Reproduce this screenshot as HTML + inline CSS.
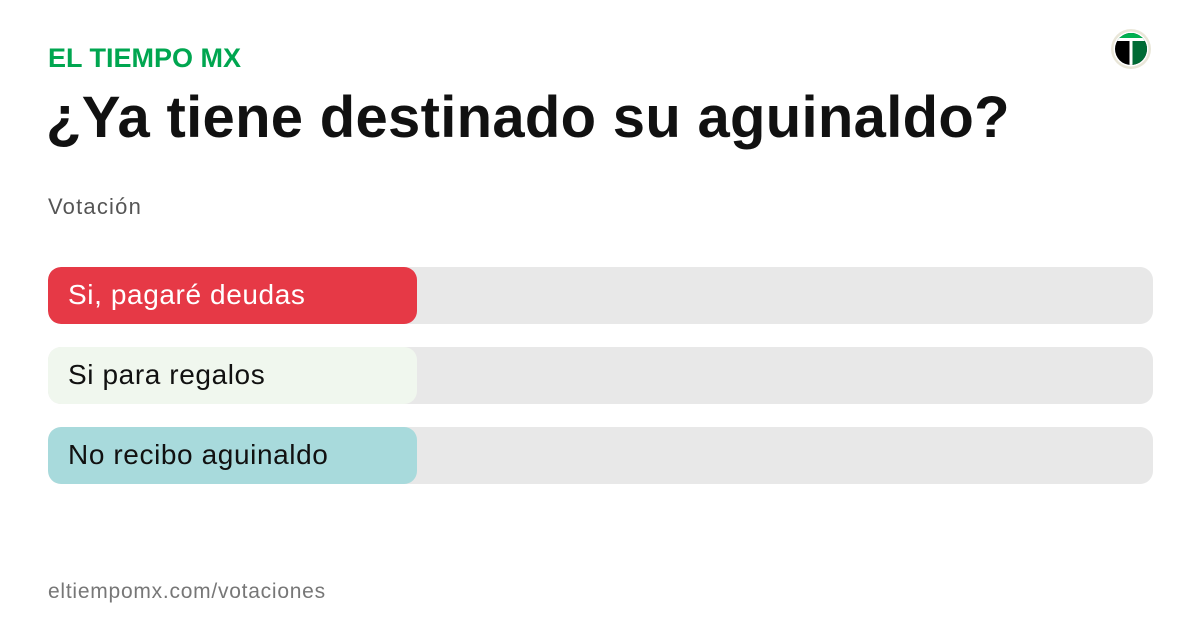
<!DOCTYPE html>
<html><head><meta charset="utf-8"><style>
body{margin:0;width:1200px;height:630px;background:#fff;font-family:"Liberation Sans",sans-serif;position:relative;overflow:hidden}
.a{position:absolute;white-space:nowrap}
.bar{position:absolute;left:48px;width:1105px;height:57px;border-radius:13px;background:#e8e8e8;overflow:hidden}
.fill{position:absolute;left:0;top:0;height:57px;width:369px;border-radius:13px}
.lbl{position:absolute;left:20px;top:0;line-height:56px;font-size:28px;letter-spacing:0.6px;color:#111}
</style></head><body>
<div class="a" style="left:48px;top:43px;font-size:27px;font-weight:bold;color:#00a650;">EL TIEMPO MX</div>
<div class="a" style="left:46px;top:84px;font-size:58px;font-weight:bold;color:#111;letter-spacing:0.3px;">¿Ya tiene destinado su aguinaldo?</div>
<div class="a" style="left:48px;top:194px;font-size:22px;letter-spacing:1.2px;color:#555;">Votación</div>
<div class="bar" style="top:267px"><div class="fill" style="background:#e63946"></div><div class="lbl" style="color:#fff">Si, pagaré deudas</div></div>
<div class="bar" style="top:347px"><div class="fill" style="background:#f0f7ee"></div><div class="lbl">Si para regalos</div></div>
<div class="bar" style="top:427px"><div class="fill" style="background:#a8dadc"></div><div class="lbl">No recibo aguinaldo</div></div>
<div class="a" style="left:48px;top:580px;font-size:21px;letter-spacing:0.75px;color:#777;">eltiempomx.com/votaciones</div>
<svg class="a" style="left:1110px;top:28px" width="42" height="42" viewBox="0 0 42 42">
<circle cx="21" cy="21" r="20" fill="#e9e6d8"/><circle cx="21" cy="21" r="17.5" fill="#fff"/>
<clipPath id="c"><circle cx="21" cy="21" r="16"/></clipPath>
<g clip-path="url(#c)">
<rect x="0" y="0" width="42" height="42" fill="#000"/>
<rect x="21" y="0" width="21" height="42" fill="#006b35"/>
<rect x="0" y="0" width="42" height="11" fill="#00b050"/>
<rect x="5" y="10" width="32" height="3" fill="#fff"/>
<rect x="19.5" y="10" width="3" height="30" fill="#fff"/>
</g></svg>
</body></html>
